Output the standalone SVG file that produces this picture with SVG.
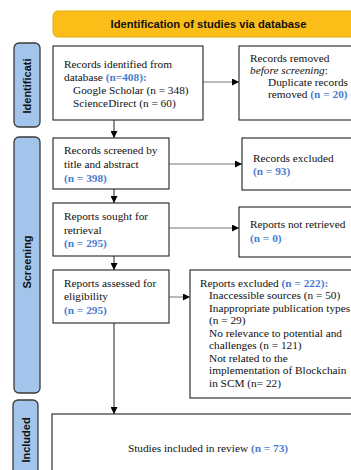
<svg xmlns="http://www.w3.org/2000/svg" width="351" height="470" viewBox="0 0 351 470">
<defs>
<marker id="ah" viewBox="0 0 10 10" refX="10" refY="5" markerWidth="7" markerHeight="7" markerUnits="userSpaceOnUse" orient="auto">
<path d="M0,0 L10,5 L0,10 z" fill="#000"/>
</marker>
<style>
.box{fill:#fff;stroke:#222;stroke-width:1.1}
.side{fill:#a3c4eb;stroke:#3a3a3a;stroke-width:1.3}
.t{font-family:"Liberation Serif","Times New Roman",serif;font-size:11.3px;fill:#111}
.n{fill:#4a7bd0;font-weight:bold}
.st{font-family:"Liberation Sans",Arial,sans-serif;font-size:11px;font-weight:bold;fill:#111}
.hd{font-family:"Liberation Sans",Arial,sans-serif;font-size:11.2px;font-weight:bold;fill:#111}
.c{fill:none;stroke:#777;stroke-width:1}
.cv{fill:none;stroke:#222;stroke-width:1}
</style>
</defs>
<rect width="351" height="470" fill="#fff"/>

<g id="header">
<rect x="53" y="11" width="320" height="26" rx="5" fill="#fbbd17" stroke="#e5a90c" stroke-width="1"/>
<text class="hd" x="208.5" y="28" text-anchor="middle">Identification of studies via database</text>
</g>

<g id="side-identification">
<rect class="side" x="14" y="43" width="26" height="84" rx="5"/>
<text class="st" transform="translate(31,86) rotate(-90)" text-anchor="middle">Identificati</text>
</g>
<g id="side-screening">
<rect class="side" x="14" y="137" width="26" height="256" rx="5"/>
<text class="st" transform="translate(31,262) rotate(-90)" text-anchor="middle">Screening</text>
</g>
<g id="side-included">
<rect class="side" x="13" y="400" width="25" height="90" rx="5"/>
<text class="st" transform="translate(29.5,440) rotate(-90)" text-anchor="middle">Included</text>
</g>

<g id="connectors">
<path class="cv" d="M114,120 V138" marker-end="url(#ah)"/>
<path class="cv" d="M114,189 V203" marker-end="url(#ah)"/>
<path class="cv" d="M114,256 V270" marker-end="url(#ah)"/>
<path class="cv" d="M114,323 V414" marker-end="url(#ah)"/>
<path class="c" d="M203,82 H239" marker-end="url(#ah)"/>
<path class="c" d="M169,164 H242" marker-end="url(#ah)"/>
<path class="c" d="M169,228 H239" marker-end="url(#ah)"/>
<path class="c" d="M169,297 H190" marker-end="url(#ah)"/>
</g>

<g id="records-identified">
<rect class="box" x="53" y="46" width="150" height="74"/>
<text class="t" x="64" y="68">Records identified from</text>
<text class="t" x="64" y="81">database <tspan class="n">(n=408):</tspan></text>
<text class="t" x="73" y="94">Google Scholar (n = 348)</text>
<text class="t" x="73" y="106.5">ScienceDirect (n = 60)</text>
</g>

<g id="records-removed">
<rect class="box" x="239" y="46" width="130" height="74"/>
<text class="t" x="250" y="62">Records removed</text>
<text class="t" x="250" y="74"><tspan font-style="italic">before screening</tspan>:</text>
<text class="t" x="268" y="86">Duplicate records</text>
<text class="t" x="268" y="98">removed <tspan class="n">(n = 20)</tspan></text>
</g>

<g id="records-screened">
<rect class="box" x="53" y="138" width="116" height="51"/>
<text class="t" x="64" y="154">Records screened by</text>
<text class="t" x="64" y="167.5">title and abstract</text>
<text class="t" x="64" y="181.5"><tspan class="n">(n = 398)</tspan></text>
</g>

<g id="records-excluded">
<rect class="box" x="242" y="138" width="130" height="52"/>
<text class="t" x="253" y="161.5">Records excluded</text>
<text class="t" x="253" y="175"><tspan class="n">(n = 93)</tspan></text>
</g>

<g id="reports-sought">
<rect class="box" x="53" y="203" width="116" height="53"/>
<text class="t" x="64" y="220">Reports sought for</text>
<text class="t" x="64" y="233.5">retrieval</text>
<text class="t" x="64" y="247"><tspan class="n">(n = 295)</tspan></text>
</g>

<g id="reports-not-retrieved">
<rect class="box" x="239" y="207" width="130" height="50"/>
<text class="t" x="250" y="228">Reports not retrieved</text>
<text class="t" x="250" y="241.5"><tspan class="n">(n = 0)</tspan></text>
</g>

<g id="reports-assessed">
<rect class="box" x="53" y="270" width="116" height="53"/>
<text class="t" x="64" y="286.5">Reports assessed for</text>
<text class="t" x="64" y="300">eligibility</text>
<text class="t" x="64" y="313.5"><tspan class="n">(n = 295)</tspan></text>
</g>

<g id="reports-excluded">
<rect class="box" x="190" y="270" width="180" height="128"/>
<text class="t" x="200" y="286.5">Reports excluded <tspan class="n">(n = 222):</tspan></text>
<text class="t" x="209" y="299">Inaccessible sources (n = 50)</text>
<text class="t" x="209" y="311.5">Inappropriate publication types</text>
<text class="t" x="209" y="324">(n = 29)</text>
<text class="t" x="209" y="336.5">No relevance to potential and</text>
<text class="t" x="209" y="349">challenges (n = 121)</text>
<text class="t" x="209" y="361.5">Not related to the</text>
<text class="t" x="209" y="374">implementation of Blockchain</text>
<text class="t" x="209" y="386.5">in SCM (n= 22)</text>
</g>

<g id="studies-included">
<rect class="box" x="52" y="414" width="320" height="70"/>
<text class="t" x="208" y="451.5" text-anchor="middle">Studies included in review <tspan class="n">(n = 73)</tspan></text>
</g>
</svg>
